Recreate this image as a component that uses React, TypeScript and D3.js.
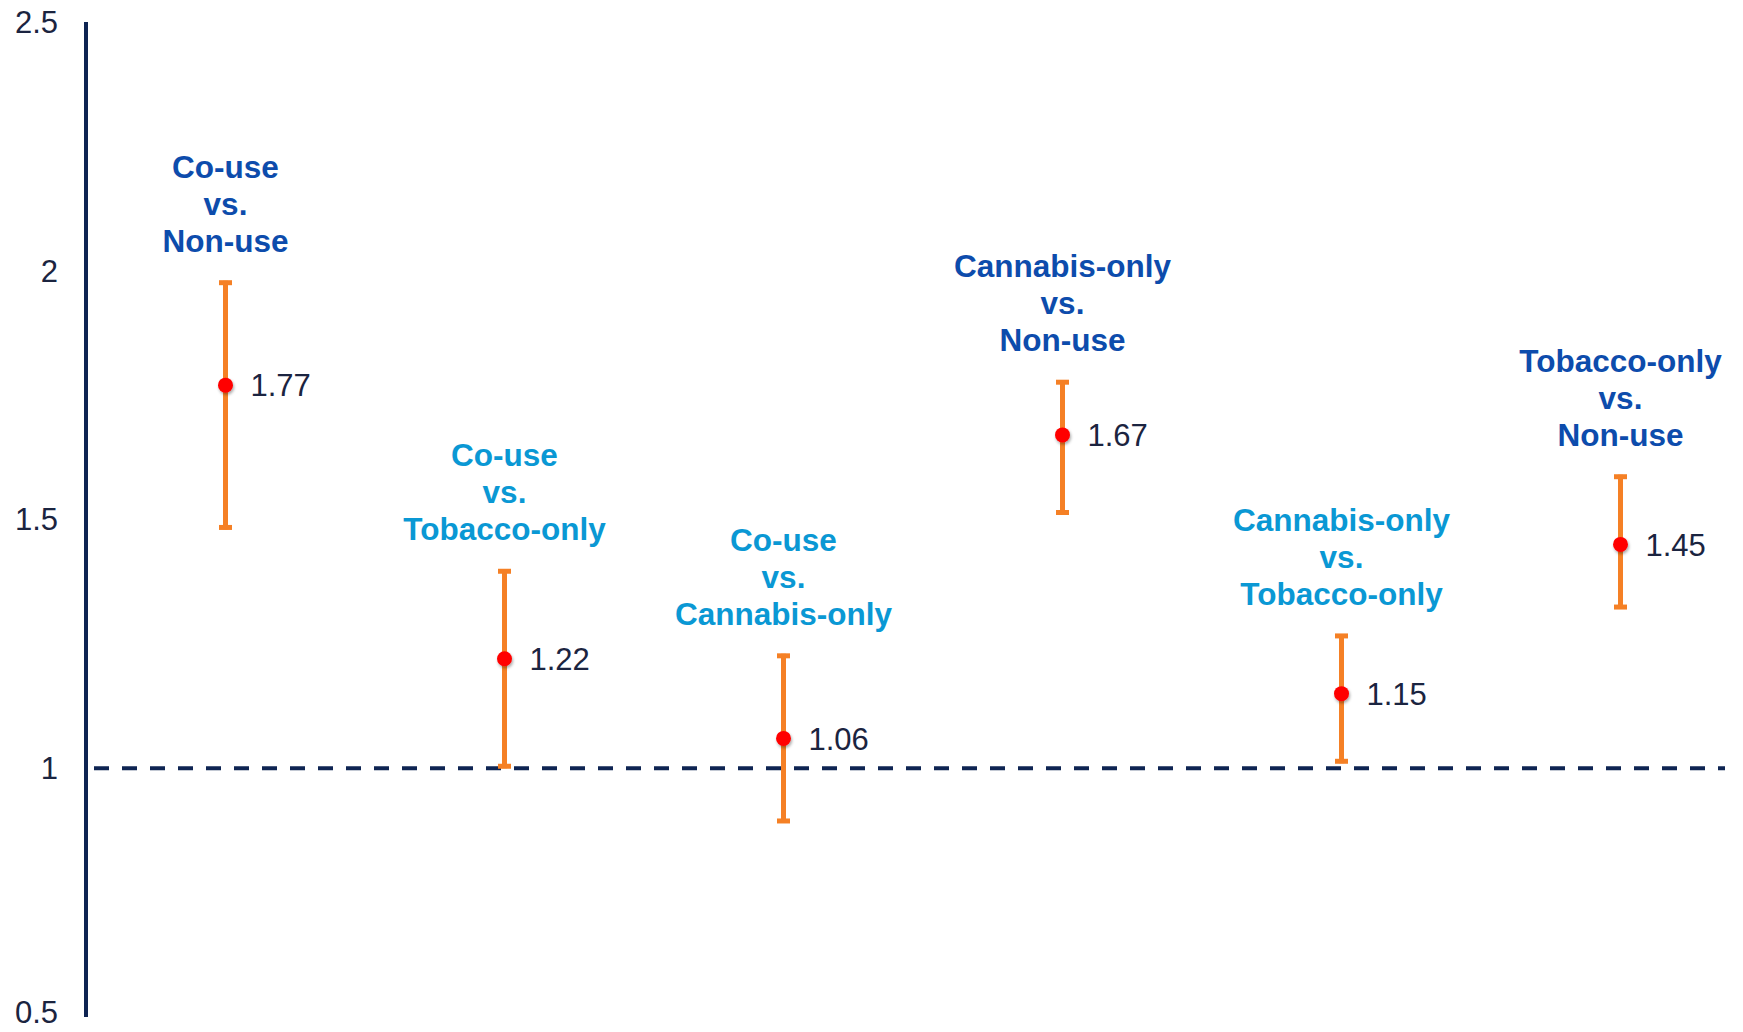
import React from "react";
import * as d3 from "d3";

// Odds ratios with 95% confidence intervals for each pairwise comparison
const comparisons = ["Co-use", "Co-use", "Co-use", "Cannabis-only", "Cannabis-only", "Tobacco-only"];
const references = ["Non-use", "Tobacco-only", "Cannabis-only", "Non-use", "Tobacco-only", "Non-use"];
const oddsRatios = [1.77, 1.22, 1.06, 1.67, 1.15, 1.45];
const ciLower = [1.48, 1.0, 0.89, 1.51, 1.01, 1.32];
const ciUpper = [1.98, 1.4, 1.23, 1.78, 1.27, 1.59];
const yTicks = [0.5, 1, 1.5, 2, 2.5];
const nullValue = 1;

const W = 1743;
const H = 1032;
const FONT = "'Liberation Sans', Arial, Helvetica, sans-serif";

export default function App() {
  const keys = comparisons.map((c, i) => `${c} vs. ${references[i]}`);
  const x = d3.scaleBand<string>().domain(keys).range([86, 1760]).padding(0);
  const y = d3.scaleLinear().domain([0.5, 2.5]).range([1017, 22]);
  const cx = (i: number) => (x(keys[i]) ?? 0) + x.bandwidth() / 2;

  const axisColor = "#0E2452";
  const barColor = "#F58025";
  const lineH = 37;

  return (
    <svg
      width={W}
      height={H}
      style={{ position: "absolute", left: 0, top: 0, background: "#fff" }}
      fontFamily={FONT}
    >
      <defs>
        <filter id="dotShadow" x="-50%" y="-50%" width="200%" height="200%">
          <feDropShadow dx="1" dy="2" stdDeviation="1.8" floodColor="#000" floodOpacity="0.35" />
        </filter>
      </defs>

      {/* y axis */}
      <line x1={86} x2={86} y1={y(2.5)} y2={y(0.5)} stroke={axisColor} strokeWidth={4} />
      {yTicks.map((t) => (
        <text
          key={t}
          x={58}
          y={Math.min(y(t), 1012)}
          dy="0.35em"
          textAnchor="end"
          fontSize={31}
          fill="#1B2440"
        >
          {String(t)}
        </text>
      ))}

      {/* reference line at OR = 1 */}
      <line
        x1={88}
        x2={1725}
        y1={y(nullValue)}
        y2={y(nullValue)}
        stroke={axisColor}
        strokeWidth={4}
        strokeDasharray="15 13"
        strokeDashoffset={-6}
      />

      {oddsRatios.map((v, i) => {
        const xc = cx(i);
        const yHi = y(ciUpper[i]);
        const yLo = y(ciLower[i]);
        const labelColor = references[i] === "Non-use" ? "#0D4CAC" : "#0A98D4";
        const lines = [comparisons[i], "vs.", references[i]];
        const lastBaseline = yHi - 29;
        return (
          <g key={keys[i]}>
            {lines.map((ln, j) => (
              <text
                key={j}
                x={xc}
                y={lastBaseline - (lines.length - 1 - j) * lineH}
                textAnchor="middle"
                fontSize={31.5}
                fontWeight="bold"
                fill={labelColor}
              >
                {ln}
              </text>
            ))}
            <line x1={xc} x2={xc} y1={yHi} y2={yLo} stroke={barColor} strokeWidth={5} />
            <line x1={xc - 6.5} x2={xc + 6.5} y1={yHi + 2} y2={yHi + 2} stroke={barColor} strokeWidth={5} />
            <line x1={xc - 6.5} x2={xc + 6.5} y1={yLo - 2} y2={yLo - 2} stroke={barColor} strokeWidth={5} />
            <circle cx={xc} cy={y(v)} r={7.5} fill="#FF0000" filter="url(#dotShadow)" />
            <text x={xc + 25} y={y(v)} dy="0.36em" fontSize={31} fill="#1B2440">
              {d3.format(".2f")(v)}
            </text>
          </g>
        );
      })}
    </svg>
  );
}
